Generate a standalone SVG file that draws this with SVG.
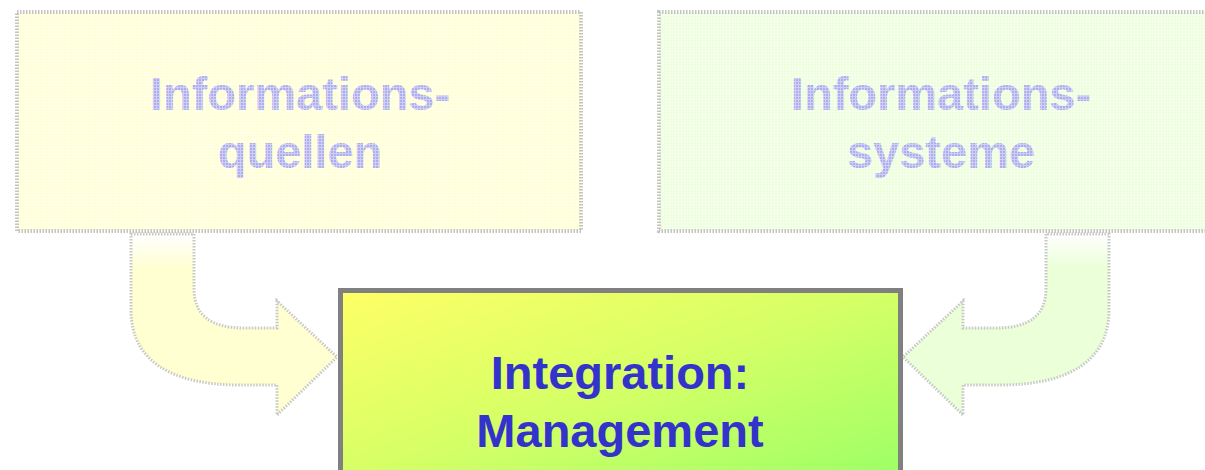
<svg xmlns="http://www.w3.org/2000/svg" width="1205" height="470" viewBox="0 0 1205 470">
  <style>
    .faded { stroke: #C4C4C4; stroke-width: 4; stroke-dasharray: 1.5 1.5; }
    .fadedText { font-family: "Liberation Sans", Arial, sans-serif; font-weight: bold; font-size: 47px; fill: url(#lav); text-anchor: middle; }
    .mainText { font-family: "Liberation Sans", Arial, sans-serif; font-weight: bold; font-size: 47px; fill: #3333CC; text-anchor: middle; }
    .arrow { stroke: #C8C8C8; stroke-width: 3; stroke-dasharray: 1.5 1.5; stroke-linejoin: miter; }
  </style>
  <defs>
    <pattern id="yel" width="3" height="3" patternUnits="userSpaceOnUse">
      <rect width="3" height="3" fill="#FFFFD2"/>
      <rect width="3" height="1" fill="#FFFFEA"/>
      <rect width="1" height="3" fill="#FFFFEA"/>
    </pattern>
    <pattern id="grn" width="3" height="3" patternUnits="userSpaceOnUse">
      <rect width="3" height="3" fill="#EBFFD8"/>
      <rect width="3" height="1" fill="#F6FFEE"/>
      <rect width="1" height="3" fill="#F6FFEE"/>
    </pattern>
    <pattern id="lav" width="3" height="3" patternUnits="userSpaceOnUse">
      <rect width="3" height="3" fill="#ADADEE"/>
      <rect width="3" height="1" fill="#CFCFF6"/>
      <rect width="1" height="3" fill="#CFCFF6"/>
    </pattern>
    <linearGradient id="mainGrad" x1="0" y1="0" x2="1" y2="1">
      <stop offset="0" stop-color="#FFFF66"/>
      <stop offset="0.5" stop-color="#D4FF66"/>
      <stop offset="1" stop-color="#99FF66"/>
    </linearGradient>
    <linearGradient id="yelFade" gradientUnits="userSpaceOnUse" x1="0" y1="234" x2="0" y2="268">
      <stop offset="0" stop-color="#FFFFFF"/>
      <stop offset="1" stop-color="#FFFFD2"/>
    </linearGradient>
    <linearGradient id="grnFade" gradientUnits="userSpaceOnUse" x1="0" y1="234" x2="0" y2="268">
      <stop offset="0" stop-color="#FFFFFF"/>
      <stop offset="1" stop-color="#EBFFD8"/>
    </linearGradient>
  </defs>

  <g id="quellen">
    <rect class="faded" x="17" y="12" width="564" height="219" fill="url(#yel)"/>
    <text class="fadedText" x="300" y="110">Informations-</text>
    <text class="fadedText" x="300" y="168">quellen</text>
  </g>

  <g id="systeme">
    <rect class="faded" x="659" y="12" width="566" height="219" fill="url(#grn)"/>
    <text class="fadedText" x="941" y="110">Informations-</text>
    <text class="fadedText" x="941" y="168">systeme</text>
  </g>

  <g id="connectors">
    <path class="arrow" fill="url(#yelFade)" d="M131,234 L194,234 L194,288 C194,315 210,328 245,328 L277,328 L277,301 L337,357 L277,415 L277,385 L240,385 C170,385 131,360 131,310 Z"/>
    <path class="arrow" fill="url(#grnFade)" transform="translate(1240,0) scale(-1,1)" d="M131,234 L194,234 L194,288 C194,315 210,328 245,328 L277,328 L277,301 L337,357 L277,415 L277,385 L240,385 C170,385 131,360 131,310 Z"/>
  </g>

  <g id="integration">
    <rect x="340.5" y="290.5" width="560" height="200" fill="url(#mainGrad)" stroke="#808080" stroke-width="5"/>
    <text class="mainText" x="620" y="389">Integration:</text>
    <text class="mainText" x="620" y="447">Management</text>
  </g>
</svg>
